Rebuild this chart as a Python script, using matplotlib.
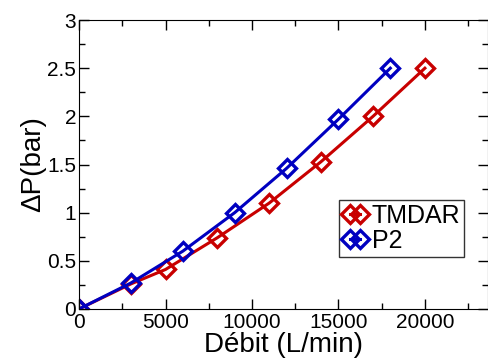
import matplotlib.pyplot as plt
from matplotlib.ticker import MultipleLocator

plt.rcParams['font.family'] = ['Liberation Sans', 'DejaVu Sans']

# données
debit_tmdar = [0, 3000, 5000, 8000, 11000, 14000, 17000, 20000]
dp_tmdar = [0, 0.26, 0.41, 0.74, 1.10, 1.53, 2.00, 2.50]
debit_p2 = [0, 3000, 6000, 9000, 12000, 15000, 18000]
dp_p2 = [0, 0.27, 0.60, 1.00, 1.46, 1.97, 2.50]

fig = plt.figure(figsize=(4.88, 3.58), dpi=100)
ax = fig.add_axes([0.162, 0.137, 0.838, 0.807])

ax.plot(debit_tmdar, dp_tmdar, color='#c80000', lw=2.2, marker='D', markersize=9,
        markeredgewidth=2.4, markerfacecolor='none', label='TMDAR')
ax.plot(debit_p2, dp_p2, color='#0000c0', lw=2.2, marker='D', markersize=9,
        markeredgewidth=2.4, markerfacecolor='none', label='P2')

ax.set_xlim(0, 23650)
ax.set_ylim(0, 3)
ax.xaxis.set_major_locator(MultipleLocator(5000))
ax.xaxis.set_minor_locator(MultipleLocator(2500))
ax.yaxis.set_major_locator(MultipleLocator(0.5))
ax.yaxis.set_minor_locator(MultipleLocator(0.25))
ax.yaxis.set_major_formatter(plt.FuncFormatter(lambda v, p: '%g' % v))
ax.tick_params(which='both', direction='in', top=True, right=True, labelsize=15, width=1)
ax.tick_params(which='major', length=7)
ax.tick_params(which='minor', length=4)
ax.tick_params(axis='y', pad=2)
ax.tick_params(axis='x', pad=3)

ax.set_xlabel('Débit (L/min)', fontsize=20, labelpad=0)
ax.set_ylabel('ΔP(bar)', fontsize=20, labelpad=1)

leg = ax.legend(loc='upper left', bbox_to_anchor=(0.636, 0.377), fontsize=18, numpoints=2,
                fancybox=False, framealpha=1, edgecolor='#333333', handlelength=1.0,
                handletextpad=0.15, borderpad=0.15, labelspacing=0.05, borderaxespad=0)
leg.get_frame().set_linewidth(1)

fig.savefig('out.png', dpi=100)
